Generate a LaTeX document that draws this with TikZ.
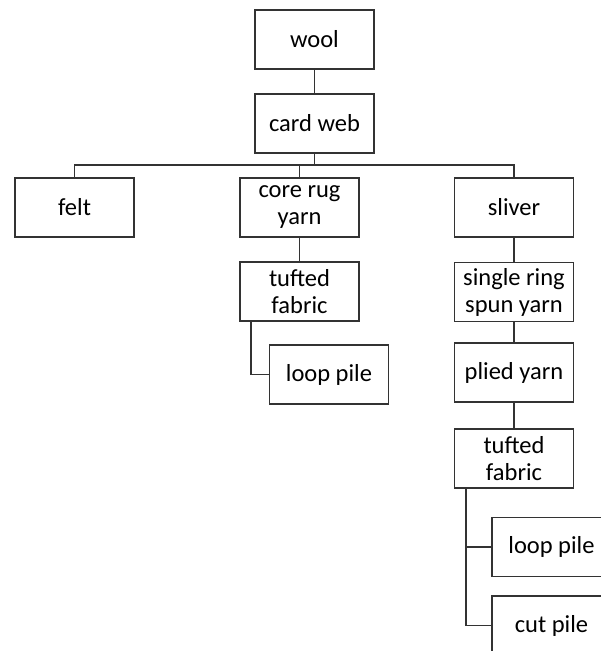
\documentclass[tikz,border=0pt]{standalone}
\usepackage{fontspec}
\setmainfont{Carlito}
\usetikzlibrary{positioning}

\tikzset{
  box/.style={draw=black!80, line width=1.8pt, minimum width=119pt, minimum height=59pt,
    inner sep=0pt, align=center, font=\fontsize{24.5}{27}\selectfont},
  link/.style={draw=black!80, line width=1.8pt}
}

\begin{document}
\begin{tikzpicture}[x=1pt, y=-1pt]
  \useasboundingbox (0,0) rectangle (601,651);
  \clip (0,0) rectangle (601,651);

  \node[box] (wool) at (314.5,39.5) {wool};
  \node[box] (cardweb) at (314.5,123.5) {card web};
  \coordinate (bus) at (314.5,165);

  \node[box] (felt) at (74.5,207.5) {felt};
  \node[box] (corerug) at (299.5,207.5) {core rug\\yarn};
  \node[box] (sliver) at (514,207.5) {sliver};

  % links
  \node[box] (tuftedA) at (299.5,291.5) {tufted\\fabric};
  \node[box] (loopA) at (329,374.5) {loop pile};

  % rechts
  \node[box] (ring) at (514,292) {single ring\\spun yarn};
  \node[box] (plied) at (514,372.5) {plied yarn};
  \node[box] (tuftedB) at (514,458.5) {tufted\\fabric};
  \node[box] (loopB) at (551.5,547) {loop pile};
  \node[box] (cutB) at (551.5,625.5) {cut pile};

  \begin{scope}[link]
    \draw (wool) -- (cardweb);
    \draw (cardweb) -- (bus);
    \draw (felt.north) |- (bus);
    \draw (sliver.north) |- (bus);
    \draw (corerug.north) |- (bus);

    \draw (corerug) -- (tuftedA);
    \draw ([xshift=12pt]tuftedA.south west) |- (loopA.west);

    \draw (sliver) -- (ring);
    \draw (ring) -- (plied);
    \draw (plied) -- (tuftedB);
    \draw ([xshift=12pt]tuftedB.south west) |- (loopB.west);
    \draw ([xshift=12pt]tuftedB.south west) |- (cutB.west);
  \end{scope}

\end{tikzpicture}
\end{document}
